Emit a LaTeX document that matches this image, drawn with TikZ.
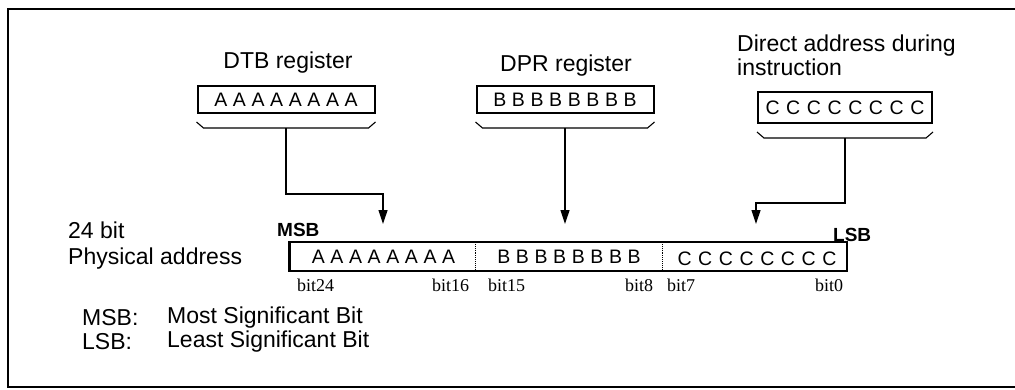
\documentclass[tikz,border=0pt]{standalone}
\usepackage{fontspec}
\setmainfont{Liberation Sans}
\newfontfamily\bitfont{Liberation Serif}
\usetikzlibrary{arrows.meta}
\newcommand\letterfont{\fontsize{19.5}{19.5}\selectfont\spaceskip=5.6pt\relax}
\newcommand\cletterfont{\fontsize{19.5}{19.5}\selectfont\spaceskip=6.6pt\relax}
\tikzset{
  txt/.style={inner sep=0pt,font=\fontsize{23}{24}\selectfont},
  reg/.style={draw,line width=2pt,minimum height=27pt,inner sep=0pt,font=\letterfont},
  brace/.style={line width=1.1pt},
  feed/.style={line width=1.2pt,-{Triangle[width=9pt,length=14pt]}},
  bitno/.style={inner sep=0pt,anchor=west,font=\bitfont\fontsize{18}{18}\selectfont},
  edge/.style={inner sep=0pt,anchor=west,font=\bfseries\fontsize{19}{19}\selectfont}
}
\begin{document}
\begin{tikzpicture}[x=1pt,y=-1pt]
\useasboundingbox (0,0) rectangle (1015,389);
\draw[line width=2pt] (1016,9) -- (8,9) -- (8,387) -- (1016,387);
% source registers
\node[txt] (dtbtext) at (288,63) {DTB register};
\node[txt] (dprtext) at (566,66) {DPR register};
\node[txt,align=left,anchor=west] (dirtext) at (737,55) {Direct address during\\instruction};
\node[reg,minimum width=177pt] (dtb) at (286,99.5) {A A A A A A A A};
\node[reg,minimum width=177pt] (dpr) at (565,99.5) {B B B B B B B B};
\node[reg,minimum width=174pt,minimum height=31pt,font=\cletterfont] (dir) at (845,107.5) {C C C C C C C C};
\foreach \r in {dtb,dpr,dir} {
  \draw[brace] ([yshift=-8pt]\r.south west) -- ([xshift=7pt,yshift=-14pt]\r.south west)
    -- ([xshift=-7pt,yshift=-14pt]\r.south east) -- ([yshift=-8pt]\r.south east);
  \coordinate (\r foot) at ([yshift=-14pt]\r.south);
}
% physical address
\node[draw,line width=2pt,minimum width=557pt,minimum height=29pt,inner sep=0pt] (phys) at (568.5,256.5) {};
\draw[line width=2.8pt] (phys.north west) -- (phys.south west);
\draw[densely dotted,line width=0.9pt] (475,242) -- (475,271);
\draw[densely dotted,line width=0.9pt] (662,242) -- (662,271);
\node[inner sep=0pt,font=\letterfont] (abits) at (383.5,257) {A A A A A A A A};
\node[inner sep=0pt,font=\letterfont] (bbits) at (569,257) {B B B B B B B B};
\node[inner sep=0pt,font=\cletterfont] (cbits) at (757,259) {C C C C C C C C};
\coordinate (atip) at (383,224);
\coordinate (ctip) at (756,224);
\draw[feed] (dtbfoot) -- ++(0,66) -| (atip);
\draw[feed] (dprfoot) -- (dprfoot |- atip);
\draw[feed] (dirfoot) -- ++(0,65) -| (ctip);
\node[edge] (msb) at (277,230) {MSB};
\node[edge] (lsb) at (833,235) {LSB};
\node[bitno] (b24) at (297,285) {bit24};
\node[bitno] (b16) at (432,285) {bit16};
\node[bitno] (b15) at (488,285) {bit15};
\node[bitno] (b8) at (625,285) {bit8};
\node[bitno] (b7) at (667,285) {bit7};
\node[bitno] (b0) at (815,285) {bit0};
% legend
\node[txt,anchor=west] (width) at (68,230) {24 bit};
\node[txt,anchor=west] (physname) at (68,259) {Physical address};
\node[txt,anchor=west] (msbkey) at (82,318) {MSB:};
\node[txt,anchor=west] (msbval) at (167,318) {Most Significant Bit};
\node[txt,anchor=west] (lsbkey) at (82,342) {LSB:};
\node[txt,anchor=west] (lsbval) at (167,342) {Least Significant Bit};
\end{tikzpicture}
\end{document}
